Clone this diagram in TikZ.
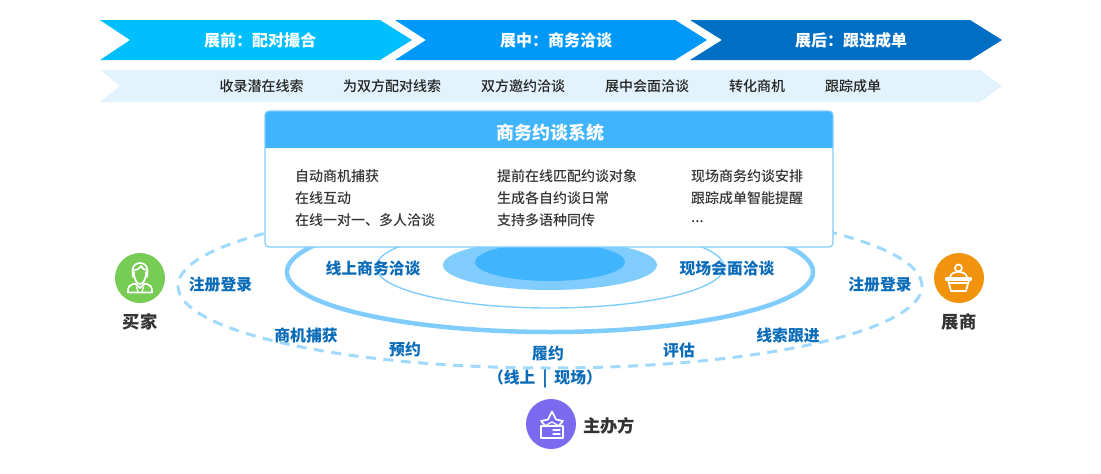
\documentclass[tikz,border=0pt]{standalone}
\usepackage{fontspec}
\setmainfont{Noto Sans CJK SC}
\newfontfamily\medf{Noto Sans CJK SC Medium}
\newfontfamily\latf{Noto Sans}
\definecolor{cA}{HTML}{00BFFF}
\definecolor{cB}{HTML}{0099FA}
\definecolor{cC}{HTML}{006EC2}
\definecolor{rowbg}{HTML}{E3F3FD}
\definecolor{sysblue}{HTML}{40B4FC}
\definecolor{ringblue}{HTML}{80CCFD}
\definecolor{dashblue}{HTML}{A0D9FC}
\definecolor{lab}{HTML}{0A6BB8}
\definecolor{ink}{HTML}{333333}
\definecolor{ink2}{HTML}{222222}
\definecolor{cgreen}{HTML}{76CC55}
\definecolor{corange}{HTML}{F2930D}
\definecolor{cpurple}{HTML}{7B6AF0}
\tikzset{
  phase/.style={font=\bfseries\fontsize{16}{16}\selectfont,text=white,inner sep=0pt},
  stage/.style={font=\medf\fontsize{14}{14}\selectfont,text=ink2,inner sep=0pt},
  item/.style={font=\medf\fontsize{14}{14}\selectfont,text=ink,inner sep=0pt,anchor=west},
  flowlabel/.style={font=\bfseries\fontsize{15.8}{16}\selectfont,text=lab,inner sep=0pt},
  role/.style={font=\bfseries\fontsize{17.3}{18}\selectfont,text=ink,inner sep=0pt},
  badge/.style={circle,minimum size=50pt,inner sep=0pt},
  icon/.style={draw=white,line width=1.7pt,line join=round,line cap=round},
}
\begin{document}
\begin{tikzpicture}[x=1pt,y=-1pt]
\useasboundingbox (0,0) rectangle (1101,474);
% chevrons
\fill[cA] (100,20) -- (380,20) -- (412,40) -- (380,60) -- (100,60) -- (130,40) -- cycle;
\fill[cB] (395,20) -- (675,20) -- (707,40) -- (675,60) -- (395,60) -- (426,40) -- cycle;
\fill[cC] (690,20) -- (970,20) -- (1002,40) -- (970,60) -- (690,60) -- (722,40) -- cycle;
\node[phase] (p1) at (260,40) {展前：配对撮合};
\node[phase] (p2) at (556,40) {展中：商务洽谈};
\node[phase] (p3) at (851,40) {展后：跟进成单};
% stage row
\fill[rowbg] (100,70) -- (980,70) -- (1002,86) -- (980,102) -- (100,102) -- (120,86) -- cycle;
\node[stage] (s1) at (261.5,86) {收录潜在线索};
\node[stage] (s2) at (392,86) {为双方配对线索};
\node[stage] (s3) at (523,86) {双方邀约洽谈};
\node[stage] (s4) at (647,86) {展中会面洽谈};
\node[stage] (s5) at (757,86) {转化商机};
\node[stage] (s6) at (853,86) {跟踪成单};
% rings
\draw[dashblue,line width=3pt,dash pattern=on 10pt off 7.5pt] (550,286) ellipse [x radius=372pt,y radius=82pt];
\draw[ringblue,line width=4.5pt] (550,272) ellipse [x radius=263pt,y radius=60pt];
\draw[ringblue,line width=1.4pt] (550,267) ellipse [x radius=174pt,y radius=41pt];
\fill[ringblue] (550,265) ellipse [x radius=107pt,y radius=25pt];
\fill[sysblue] (550,262) ellipse [x radius=75pt,y radius=19pt];
% system box
\fill[white] (265,111) rectangle (833,247);
\fill[sysblue,rounded corners=4pt] (265,148) [sharp corners] -- (265,130) [rounded corners=4pt] -- (265,111) -- (833,111) -- (833,130) [sharp corners] -- (833,148) -- cycle;
\draw[ringblue,line width=1.2pt,rounded corners=4pt] (265,111) rectangle (833,247);
\node[font=\bfseries\fontsize{18}{18}\selectfont,text=white,inner sep=0pt] (sys) at (550,132.5) {商务约谈系统};
\node[item] (a1) at (295,176) {自动商机捕获};
\node[item] (a2) at (295,198) {在线互动};
\node[item] (a3) at (295,220) {在线一对一、多人洽谈};
\node[item] (b1) at (497,176) {提前在线匹配约谈对象};
\node[item] (b2) at (497,198) {生成各自约谈日常};
\node[item] (b3) at (497,220) {支持多语种同传};
\node[item] (c1) at (691,176) {现场商务约谈安排};
\node[item] (c2) at (691,198) {跟踪成单智能提醒};
\node[item,font=\latf\fontsize{16}{16}\selectfont] (c3) at (691,222) {…};
% flow labels
\node[flowlabel] (l1) at (373,268) {线上商务洽谈};
\node[flowlabel] (l2) at (727,268) {现场会面洽谈};
\node[flowlabel] (l3) at (220.5,285) {注册登录};
\node[flowlabel] (l4) at (880,285) {注册登录};
\node[flowlabel] (l5) at (306,335) {商机捕获};
\node[flowlabel] (l6) at (405,349.5) {预约};
\node[flowlabel] (l7) at (548,354) {履约};
\node[flowlabel] (l8) at (545,379) {（线上\hspace{7pt}|\hspace{7pt}现场）};
\node[flowlabel] (l9) at (679,350) {评估};
\node[flowlabel] (l10) at (788,335) {线索跟进};
% buyer
\node[badge,fill=cgreen] (buyer) at (140,278) {};
\node[role] (buyerT) at (140,322) {买家};
\draw[icon] (133,277) .. controls (131,266) and (135,263) .. (140,263) .. controls (145,263) and (149,266) .. (147,277);
\draw[icon] (133,270) .. controls (137,270) and (139,269) .. (141,266) .. controls (142,269) and (145,270) .. (147,270);
\draw[icon] (134,272) .. controls (134,280) and (137,284) .. (140,284) .. controls (143,284) and (146,280) .. (146,272);
\draw[icon] (128,292.5) -- (152,292.5) .. controls (152.5,286) and (150,285) .. (145,283.5) -- (140,288) -- (135,283.5) .. controls (130,285) and (127.5,286) .. (128,292.5) -- cycle;
\draw[icon,line width=1.2pt] (136.5,287) -- (138,292) (143.5,287) -- (142,292);
% exhibitor
\node[badge,fill=corange] (exh) at (959,278) {};
\node[role] (exhT) at (959,322) {展商};
\draw[icon] (958.5,268) circle [radius=3.5pt];
\draw[icon] (950,277) .. controls (951,273) and (955,272) .. (958.5,272) .. controls (962,272) and (966,273) .. (967,277);
\draw[icon] (946,280) -- (946,278) -- (971,278) -- (971,280) -- cycle;
\draw[icon] (948,280) -- (951,291) -- (966,291) -- (969,280);
\draw[icon,line width=1.2pt] (950,283) -- (967,283);
% organiser
\node[badge,fill=cpurple] (org) at (551,424) {};
\node[role,anchor=west] (orgT) at (583,426) {主办方};
\draw[icon] (541,426) -- (563,426) -- (563,438) -- (541,438) -- cycle;
\draw[icon] (545.5,426) -- (541,421) -- (548,419.5) -- (552,411.5) -- (556,419.5) -- (563,421) -- (558.5,426);
\draw[icon,line width=1.2pt] (553,430) -- (560,430) (553,434) -- (560,434);
\draw[icon,line width=1.2pt] (545,426) -- (552,422) -- (559,426);
\end{tikzpicture}
\end{document}
